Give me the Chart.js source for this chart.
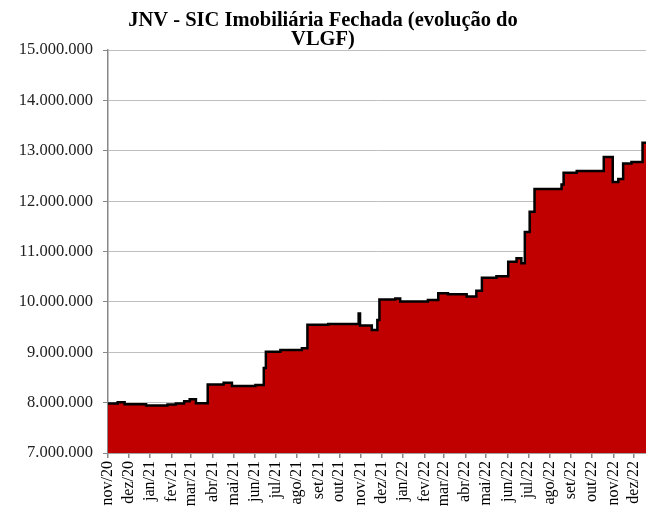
<!DOCTYPE html>
<html>
<head>
<meta charset="utf-8">
<script src="https://cdn.jsdelivr.net/npm/chart.js@4"></script>
<style>
  body { margin: 0; background: #fff; }
  #wrap { width: 646px; height: 511px; }
</style>
</head>
<body>
<div id="wrap"><canvas id="vlgf"></canvas></div>
<script>
// datas em que o VLGF muda de valor (linha em degraus)
const changeDates = ['2020-11-01','2020-11-15','2020-11-25','2020-12-26','2021-01-26','2021-02-07','2021-02-19','2021-02-27','2021-03-08','2021-03-25','2021-04-17','2021-04-29','2021-06-02','2021-06-14','2021-06-17','2021-07-08','2021-08-08','2021-08-16','2021-09-15','2021-10-29','2021-10-31','2021-11-17','2021-11-25','2021-11-28','2021-12-21','2021-12-28','2022-02-06','2022-02-21','2022-03-07','2022-04-03','2022-04-17','2022-04-25','2022-05-16','2022-06-02','2022-06-14','2022-06-21','2022-06-26','2022-07-03','2022-07-10','2022-08-18','2022-08-21','2022-09-09','2022-10-18','2022-10-31','2022-11-08','2022-11-15','2022-11-27','2022-12-13','2022-12-18'];
const vlgfValues = [7985000, 8010000, 7970000, 7945000, 7965000, 7985000, 8030000, 8065000, 7990000, 8360000, 8395000, 8330000, 8350000, 8690000, 9010000, 9045000, 9080000, 9545000, 9560000, 9770000, 9530000, 9440000, 9640000, 10050000, 10070000, 10010000, 10040000, 10170000, 10150000, 10110000, 10220000, 10480000, 10510000, 10800000, 10865000, 10770000, 11390000, 11790000, 12240000, 12330000, 12565000, 12600000, 12880000, 12380000, 12440000, 12750000, 12780000, 13160000, 13160000];

const monthLabels = ['nov/20','dez/20','jan/21','fev/21','mar/21','abr/21','mai/21','jun/21','jul/21','ago/21','set/21','out/21','nov/21','dez/21','jan/22','fev/22','mar/22','abr/22','mai/22','jun/22','jul/22','ago/22','set/22','out/22','nov/22','dez/22'];
const yTicks = [7000000, 8000000, 9000000, 10000000, 11000000, 12000000, 13000000, 14000000, 15000000];

const startDate = '2020-11-01';
const endDate = '2022-12-18';

function dayIndex(s) {
  const [y, m, d] = s.split('-').map(Number);
  const [y0, m0, d0] = startDate.split('-').map(Number);
  return Math.round((Date.UTC(y, m - 1, d) - Date.UTC(y0, m0 - 1, d0)) / 86400000);
}

// primeiro dia de cada mês, para as marcas do eixo x
const monthTicks = monthLabels.map((_, i) => {
  const t = Date.UTC(2020, 10 + i, 1);
  return Math.round((t - Date.UTC(2020, 10, 1)) / 86400000);
});

function fmt(v) {
  return String(Math.round(v)).replace(/\B(?=(\d{3})+(?!\d))/g, '.');
}

const points = changeDates.map((d, i) => ({ x: dayIndex(d), y: vlgfValues[i] }));
const serif = "'Liberation Serif', 'DejaVu Serif', serif";

new Chart(document.getElementById('vlgf'), {
  type: 'line',
  data: {
    datasets: [{
      data: points,
      stepped: true,
      borderColor: '#000',
      borderWidth: 2.5,
      backgroundColor: '#C00000',
      fill: 'start',
      pointRadius: 0
    }]
  },
  options: {
    responsive: true,
    maintainAspectRatio: false,
    animation: false,
    layout: { padding: { left: 0, right: 0, bottom: 0 } },
    plugins: {
      legend: { display: false },
      tooltip: { enabled: false },
      title: {
        display: true,
        text: ['JNV - SIC Imobiliária Fechada (evolução do', 'VLGF)'],
        color: '#000',
        font: { family: serif, size: 20.5, weight: 'bold', lineHeight: 0.93 },
        padding: { top: 11, bottom: 1 }
      }
    },
    scales: {
      x: {
        type: 'linear',
        min: 0,
        max: dayIndex(endDate),
        afterBuildTicks: s => { s.ticks = monthTicks.map(v => ({ value: v })); },
        afterFit: s => { s.height = 58; s.paddingRight = 0; },
        ticks: {
          autoSkip: false,
          minRotation: 90,
          maxRotation: 90,
          padding: 3,
          color: '#000',
          font: { family: serif, size: 16 },
          callback: (v, i) => monthLabels[i]
        },
        grid: { drawOnChartArea: false, drawTicks: true, tickLength: 5, tickColor: '#888', lineWidth: 1.5 },
        border: { color: '#888', width: 1.5 }
      },
      y: {
        min: 7000000,
        max: 15000000,
        afterBuildTicks: s => { s.ticks = yTicks.map(v => ({ value: v })); },
        afterFit: s => { s.width = 108; },
        ticks: {
          padding: 10,
          color: '#222',
          font: { family: serif, size: 16.5 },
          callback: v => fmt(v)
        },
        grid: { color: '#bfbfbf', lineWidth: 1, tickLength: 5, tickColor: '#888' },
        border: { color: '#888', width: 1.5 }
      }
    }
  }
});
</script>
</body>
</html>
